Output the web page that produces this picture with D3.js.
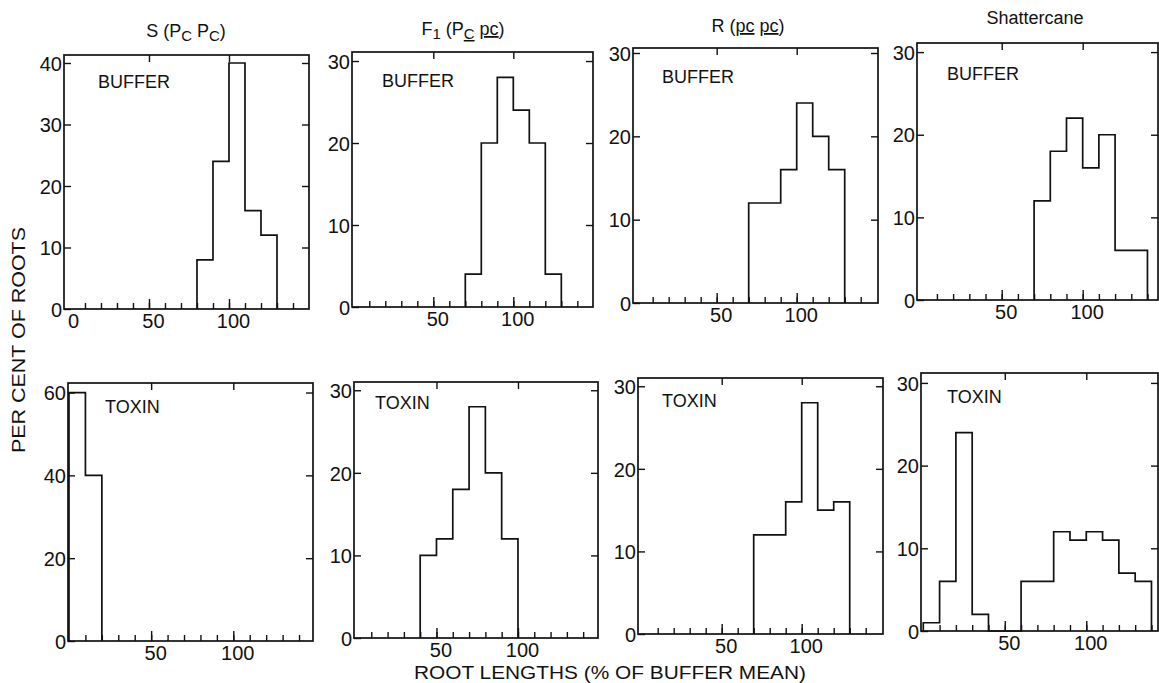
<!DOCTYPE html>
<html>
<head>
  <title>Root length histograms</title>
  <script src="https://d3js.org/d3.v7.min.js"></script>
  <style>
    body, html {
      margin: 0;
      padding: 0;
      background: #fff;
      overflow: hidden;
    }
    text {
      font-family: "Liberation Sans", Arial, sans-serif;
      fill: #111;
    }
    .frame, .hist {
      fill: none;
      stroke: #111;
      stroke-width: 1.7;
    }
    .tick line {
      stroke: #111;
      stroke-width: 1.4;
    }
  </style>
</head>
<body>
  <div id="chart"></div>

  <script>
    // data (per cent of roots per 10% bin)
    const genotypes = ["S", "F1", "R", "Shattercane"];
    const treatments = ["BUFFER", "TOXIN"];
    const binWidth = 10;
    // first bin start for each panel, top row then bottom row
    const binStarts = [80, 70, 70, 70, 0, 40, 70, 0];

    const sBufferPct = [8, 24, 40, 16, 12];
    const f1BufferPct = [4, 20, 28, 24, 20, 4];
    const rBufferPct = [12, 12, 16, 24, 20, 16];
    const shatterBufferPct = [12, 18, 22, 16, 20, 6, 6];

    const sToxinPct = [60, 40];
    const f1ToxinPct = [10, 12, 18, 28, 20, 12];
    const rToxinPct = [12, 12, 16, 28, 15, 16];
    const shatterToxinPct = [1, 6, 24, 2, 0, 0, 6, 6, 12, 11, 12, 11, 7, 6];

    const series = [sBufferPct, f1BufferPct, rBufferPct, shatterBufferPct,
                    sToxinPct, f1ToxinPct, rToxinPct, shatterToxinPct];

    const yTicks = [
      [0, 10, 20, 30, 40], [0, 10, 20, 30], [0, 10, 20, 30], [0, 10, 20, 30],
      [0, 20, 40, 60], [0, 10, 20, 30], [0, 10, 20, 30], [0, 10, 20, 30]
    ];
    const xLabelTicks = [[0, 50, 100], [50, 100], [50, 100], [50, 100],
                         [50, 100], [50, 100], [50, 100], [50, 100]];
    const xMinorTicks = d3.range(10, 150, 10);
    const xTopTicks = [50, 100];

    // panel frames (slightly uneven)
    const frames = [
      { l: 64,  t: 55,  r: 309,  b: 309, x: [-3.1, 150],  ymax: 41.3 },
      { l: 352, t: 52,  r: 593,  b: 307, x: [-0.8, 149.8], ymax: 31.1 },
      { l: 633, t: 48,  r: 878,  b: 303, x: [-2.3, 150.8], ymax: 30.6 },
      { l: 917, t: 43,  r: 1158, b: 300, x: [-2.3, 146.5], ymax: 31.1 },
      { l: 68,  t: 383, r: 313,  b: 641, x: [-0.6, 148.5], ymax: 62.3 },
      { l: 354, t: 382, r: 598,  b: 638, x: [-0.6, 149.1], ymax: 31 },
      { l: 638, t: 378, r: 883,  b: 634, x: [-2.3, 150.8], ymax: 31 },
      { l: 921, t: 373, r: 1158, b: 631, x: [-1.4, 144],   ymax: 31.2 }
    ];
    const labelOffsets = [[34, 27], [30, 29], [29, 29], [30, 31],
                          [37, 24], [21, 21], [24, 23], [26, 24]];

    const width = 1159, height = 683;
    const svg = d3.select("#chart").append("svg")
      .attr("width", width)
      .attr("height", height);

    const step = d3.line()
      .x(d => d[0])
      .y(d => d[1])
      .curve(d3.curveStepAfter);

    function styleAxis(g) {
      g.select(".domain").remove();
      g.attr("font-family", null).attr("font-size", null);
      g.selectAll("text").attr("font-size", 20).attr("fill", "#111");
    }

    frames.forEach((f, i) => {
      const x = d3.scaleLinear().domain(f.x).range([f.l, f.r]);
      const y = d3.scaleLinear().domain([0, f.ymax]).range([f.b, f.t]);
      const g = svg.append("g");

      // left axis: inward ticks, labels outside
      g.append("g")
        .attr("transform", `translate(${f.l},0)`)
        .call(d3.axisLeft(y).tickValues(yTicks[i]).tickSize(-7).tickSizeOuter(0).tickPadding(2).tickFormat(d3.format("d")))
        .call(styleAxis)
        .call(a => a.selectAll("text").attr("dy", "0.36em"));

      // right axis ticks
      g.append("g")
        .attr("transform", `translate(${f.r},0)`)
        .call(d3.axisRight(y).tickValues(yTicks[i].filter(v => v > 0)).tickSize(-7).tickSizeOuter(0).tickFormat(""))
        .call(styleAxis);

      // bottom minor ticks
      g.append("g")
        .attr("transform", `translate(0,${f.b})`)
        .call(d3.axisBottom(x).tickValues(xMinorTicks).tickSize(-6).tickSizeOuter(0).tickFormat(""))
        .call(styleAxis);

      // bottom major ticks with labels
      g.append("g")
        .attr("transform", `translate(0,${f.b})`)
        .call(d3.axisBottom(x).tickValues(xLabelTicks[i]).tickSize(-10).tickSizeOuter(0).tickPadding(5).tickFormat(d3.format("d")))
        .call(styleAxis)
        .call(a => a.selectAll(".tick line").filter(d => d === 0).remove())
        .call(a => a.selectAll("text").attr("dy", "0.71em").attr("dx", 4));

      // top ticks
      g.append("g")
        .attr("transform", `translate(0,${f.t})`)
        .call(d3.axisTop(x).tickValues(xTopTicks).tickSize(-7).tickSizeOuter(0).tickFormat(""))
        .call(styleAxis);

      // frame
      g.append("rect")
        .attr("class", "frame")
        .attr("x", f.l).attr("y", f.t)
        .attr("width", f.r - f.l).attr("height", f.b - f.t);

      // step outline histogram
      const vals = series[i];
      const start = binStarts[i];
      const pts = [[x(start), y(0)]];
      vals.forEach((v, k) => pts.push([x(start + k * binWidth), y(v)]));
      pts.push([x(start + vals.length * binWidth), y(0)]);
      g.append("path")
        .attr("class", "hist")
        .attr("d", step(pts));

      // treatment label
      g.append("text")
        .attr("x", f.l + labelOffsets[i][0])
        .attr("y", f.t + labelOffsets[i][1])
        .attr("dy", "0.36em")
        .attr("font-size", 18)
        .text(treatments[Math.floor(i / 4)]);
    });

    // column titles
    const titleParts = [
      [["S  (P"], ["C", "sub"], [" P"], ["C", "sub"], [")"]],
      [["F"], ["1", "sub"], ["  (P"], ["C", "subu"], [" "], ["pc", "u"], [")"]],
      [["R ("], ["pc", "u"], [" "], ["pc", "u"], [")"]],
      [["Shattercane"]]
    ];
    const titlePos = [[186, 37], [463, 35], [748, 32], [1035, 24]];

    titleParts.forEach((parts, i) => {
      const t = svg.append("text")
        .attr("x", titlePos[i][0])
        .attr("y", titlePos[i][1])
        .attr("text-anchor", "middle")
        .attr("font-size", 18);
      parts.forEach(p => {
        const ts = t.append("tspan").text(p[0]);
        if (p[1] === "sub" || p[1] === "subu") {
          ts.attr("font-size", 15).attr("baseline-shift", "-25%");
        }
        if (p[1] === "u" || p[1] === "subu") {
          ts.attr("text-decoration", "underline");
        }
      });
      if (i === 3) t.text(genotypes[3]);
    });

    // axis titles
    svg.append("text")
      .attr("transform", "translate(25,340) rotate(-90)")
      .attr("text-anchor", "middle")
      .attr("font-size", 18)
      .attr("textLength", 226)
      .attr("lengthAdjust", "spacingAndGlyphs")
      .text("PER CENT OF ROOTS");

    svg.append("text")
      .attr("x", 610)
      .attr("y", 679)
      .attr("text-anchor", "middle")
      .attr("font-size", 18)
      .attr("textLength", 392)
      .attr("lengthAdjust", "spacingAndGlyphs")
      .text("ROOT LENGTHS (% OF BUFFER MEAN)");
  </script>
</body>
</html>
